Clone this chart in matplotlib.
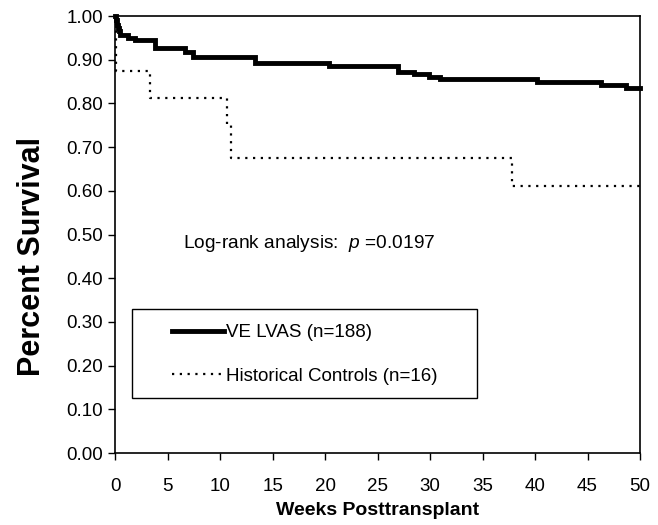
"""
Kaplan-Meier style survival curves: VE LVAS vs historical controls.
Output: out.png
"""

import matplotlib
matplotlib.use("Agg")
import matplotlib.pyplot as plt
import matplotlib.patches as mpatches
import numpy as np

# ── Data ───────────────────────────────────────────────────────────────────────
lvas_weeks = [0, 0.05, 0.1, 0.2, 0.3, 0.45, 1.2, 1.85, 3.75, 6.6, 7.4, 13.3,
              20.4, 26.9, 28.5, 29.9, 30.9, 40.2, 46.3, 48.7, 50]
lvas_surv = [1.0, 0.99, 0.98, 0.972, 0.965, 0.957, 0.949, 0.944, 0.926, 0.917,
             0.906, 0.893, 0.886, 0.873, 0.867, 0.861, 0.855, 0.850, 0.842,
             0.836, 0.836]

ctrl_weeks = [0, 0.05, 3.3, 10.6, 11.0, 37.8, 50]
ctrl_surv = [1.0, 0.875, 0.8125, 0.75, 0.676, 0.610, 0.610]

x_ticks = np.arange(0, 51, 5)
y_ticks = np.arange(0, 1.01, 0.1)

labels = ["VE LVAS (n=188)", "Historical Controls (n=16)"]
annotation = "Log-rank analysis:  $\\it{p}$ =0.0197"

# ── Figure ─────────────────────────────────────────────────────────────────────
plt.rcParams["font.family"] = ["Liberation Sans", "DejaVu Sans"]
plt.rcParams["mathtext.fontset"] = "custom"
plt.rcParams["mathtext.it"] = "Liberation Sans:italic"

fig = plt.figure(figsize=(6.58, 5.25), dpi=100)
ax = fig.add_axes([0.1755, 0.1371, 0.7971, 0.8324])

ax.step(lvas_weeks, lvas_surv, where="post", color="black", lw=3.5,
        label=labels[0], solid_joinstyle="miter", clip_on=False, zorder=3)
ax.step(ctrl_weeks, ctrl_surv, where="post", color="black", lw=1.6,
        linestyle=(0, (1, 2.5)), label=labels[1], clip_on=False, zorder=3)

ax.set_xlim(0, 50)
ax.set_ylim(0, 1.0)
ax.set_xticks(x_ticks)
ax.set_yticks(y_ticks)
ax.set_yticklabels([f"{v:.2f}" for v in y_ticks])

ax.tick_params(axis="both", direction="out", length=5, width=1,
               labelsize=13.5, colors="black")
ax.tick_params(axis="x", pad=13)
ax.tick_params(axis="y", pad=4)
for sp in ax.spines.values():
    sp.set_linewidth(1.2)

ax.set_xlabel("Weeks Posttransplant", fontsize=14, fontweight="bold", labelpad=5)
ax.set_ylabel("Percent Survival", fontsize=22, fontweight="bold")
ax.yaxis.set_label_coords(-0.13, 0.45)

ax.text(6.4, 0.48, annotation, fontsize=13.8, va="center", ha="left")

# Legend box drawn as a plain rectangle, entries placed inside it
ax.add_patch(mpatches.Rectangle((0.031, 0.126), 0.658, 0.204,
                                transform=ax.transAxes, fill=False,
                                lw=1.0, ec="black", zorder=4))
ax.legend(loc="center left", bbox_to_anchor=(0.108, 0.2255), frameon=False,
          fontsize=13.5, handlelength=2.75, handletextpad=0.1,
          borderpad=0, borderaxespad=0, labelspacing=1.4)

fig.savefig("out.png", dpi=100)
plt.close(fig)
